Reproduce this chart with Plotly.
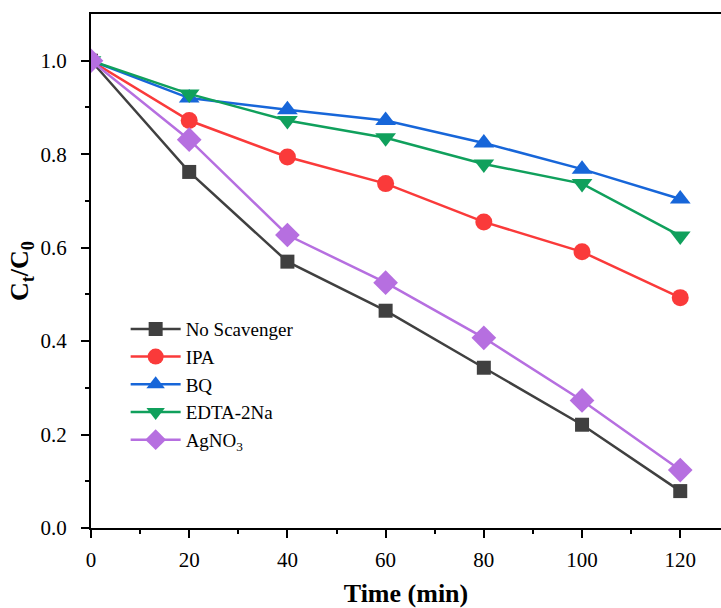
import plotly.graph_objects as go

time_min = [0, 20, 40, 60, 80, 100, 120]

no_scavenger = [1.0, 0.762, 0.570, 0.465, 0.343, 0.221, 0.079]
ipa = [1.0, 0.872, 0.794, 0.737, 0.655, 0.591, 0.493]
bq = [1.0, 0.920, 0.895, 0.872, 0.824, 0.768, 0.704]
edta_2na = [1.0, 0.929, 0.872, 0.835, 0.779, 0.737, 0.625]
agno3 = [1.0, 0.831, 0.627, 0.525, 0.407, 0.273, 0.124]

x_ticks = [0, 20, 40, 60, 80, 100, 120]
x_minor = [10, 30, 50, 70, 90, 110]
y_ticks = [0.0, 0.2, 0.4, 0.6, 0.8, 1.0]
y_minor = [0.1, 0.3, 0.5, 0.7, 0.9]

series = [
    ("No Scavenger", no_scavenger, "#404040", "square", 14),
    ("IPA", ipa, "#fa3a3a", "circle", 17),
    ("BQ", bq, "#1766d9", "triangle-up", 18),
    ("EDTA-2Na", edta_2na, "#10a05c", "triangle-down", 18),
    ("AgNO<sub>3</sub>", agno3, "#b66fe0", "diamond", 19),
]

fig = go.Figure()
for name, vals, color, symbol, size in series:
    fig.add_trace(go.Scatter(
        x=time_min, y=vals, name=name, mode="lines+markers",
        line=dict(color=color, width=2.5),
        marker=dict(symbol=symbol, size=size, color=color, line=dict(width=0)),
    ))

font_family = "Liberation Serif, Times New Roman, serif"

fig.update_layout(
    width=721, height=608,
    margin=dict(l=91, r=0, t=14, b=80),
    paper_bgcolor="white", plot_bgcolor="white",
    font=dict(family=font_family, color="black", size=20),
    showlegend=True,
    legend=dict(
        x=0.055, y=0.424, xanchor="left", yanchor="top",
        bgcolor="rgba(0,0,0,0)", font=dict(size=19, family=font_family),
        itemwidth=50, tracegroupgap=0,
    ),
)

fig.update_xaxes(
    range=[0, 128.3], showgrid=False, zeroline=False,
    showline=True, linecolor="black", linewidth=2, mirror=True,
    ticks="outside", ticklen=8, tickwidth=2, tickcolor="black",
    tickvals=x_ticks, ticklabelstandoff=4,
    minor=dict(tickvals=x_minor, ticks="outside",
               ticklen=4, tickwidth=2, tickcolor="black"),
    tickfont=dict(size=21, family=font_family),
    title=dict(text="<b>Time (min)</b>", font=dict(size=26, family=font_family), standoff=14),
)
fig.update_yaxes(
    range=[0, 1.1], showgrid=False, zeroline=False,
    showline=True, linecolor="black", linewidth=2, mirror=False,
    ticks="outside", ticklen=8, tickwidth=2, tickcolor="black",
    tickvals=y_ticks, tickformat=".1f", ticklabelstandoff=10,
    minor=dict(tickvals=y_minor, ticks="outside",
               ticklen=4, tickwidth=2, tickcolor="black"),
    tickfont=dict(size=21, family=font_family),
    title=dict(text="<b>C<sub>t</sub>/C<sub>0</sub></b>", font=dict(size=26, family=font_family), standoff=4),
)

fig.write_html("out.html")
